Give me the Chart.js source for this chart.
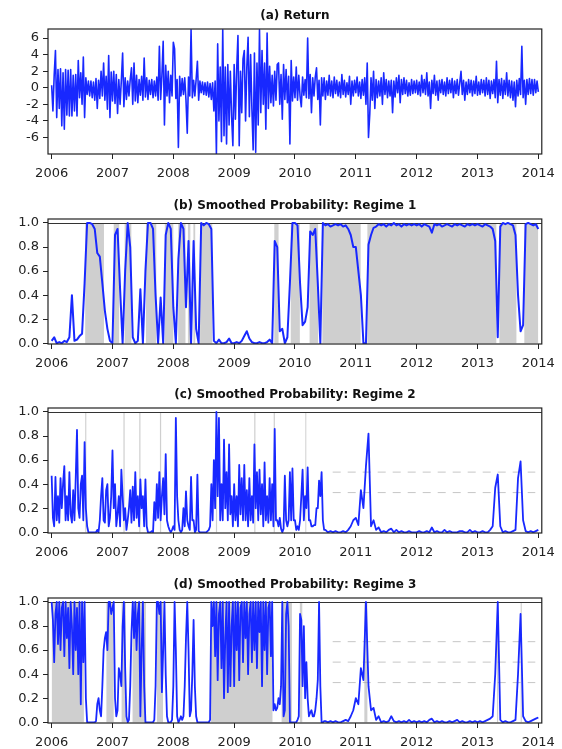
<!DOCTYPE html>
<html>
<head>
<meta charset="utf-8">
<script src="https://cdn.jsdelivr.net/npm/chart.js@4.4.0/dist/chart.umd.min.js"></script>
<style>
  body { margin: 0; background: #fff; }
  #wrap { position: relative; width: 562px; height: 749px; overflow: hidden; }
  canvas { position: absolute; left: 0; }
</style>
</head>
<body>
<div id="wrap">
  <canvas id="panelA" width="562" height="185" style="top:0px"></canvas>
  <canvas id="panelB" width="562" height="185" style="top:190px"></canvas>
  <canvas id="panelC" width="562" height="185" style="top:379px"></canvas>
  <canvas id="panelD" width="562" height="185" style="top:569px"></canvas>
</div>
<script>
// weekly returns (48 obs per year), 2006 -> 2014
const returns = [
  0.3,-2.8,1.5,4.5,-3.6,2.2,-2.5,2.3,-4.6,1.8,-5.0,2.2,-3.3,2.1,-3.4,2.2,-3.4,1.5,-2.8,1.6,-3.4,3.3,-1.2,1.8,-2.0,3.7,-3.6,1.2,-0.8,0.8,-1.0,0.8,-1.2,0.7,-1.5,1.1,-2.5,0.9,-1.3,2.0,-1.0,3.0,-1.5,1.4,-2.6,3.9,-3.6,1.9,
  -1.6,2.0,-1.9,1.6,-3.1,1.0,-2.0,0.9,4.2,-2.3,1.2,-1.4,0.8,-1.0,1.0,2.4,-2.0,3.0,-1.6,1.5,-1.8,1.0,-0.9,1.4,-1.5,3.6,-1.1,1.2,-1.4,0.9,-0.8,1.0,-1.2,0.8,-1.0,1.3,-1.5,5.0,-1.4,1.5,5.6,-4.5,2.7,-1.0,2.0,-1.8,1.5,-1.0,
  5.5,4.7,-1.3,1.0,-7.2,1.4,-1.0,1.1,-0.8,1.2,-1.5,-5.5,1.3,-1.0,7.0,-1.2,0.9,-1.0,1.0,3.2,-1.5,0.8,-0.6,0.7,-0.8,0.6,-0.9,0.7,-1.1,0.5,-1.4,0.6,-2.8,0.8,-8.0,5.3,-4.0,2.5,-6.5,7.0,-5.8,2.5,-6.8,2.8,-4.5,2.0,-3.5,-7.0,
  2.8,-3.8,2.2,6.3,-7.0,2.0,-3.0,3.5,4.5,-4.0,2.5,6.1,-3.5,4.0,-2.5,-7.5,4.2,-7.8,3.0,-4.5,7.0,-3.0,4.5,-2.0,3.0,-5.0,6.6,-2.5,2.6,-1.8,1.5,-2.2,2.0,-1.5,2.8,3.0,-2.0,1.6,-3.8,2.8,-1.4,2.2,-1.8,1.4,-6.8,3.3,-1.6,1.3,
  -1.2,2.5,-1.5,1.5,-1.0,-2.3,1.3,-0.9,1.0,-1.2,6.0,-1.3,1.6,-3.0,1.2,-1.0,1.3,2.4,-1.4,0.9,-4.5,1.2,-1.0,1.2,-1.4,0.8,-0.9,1.5,-1.0,0.8,-1.2,1.3,-0.7,0.9,-1.0,0.7,-1.2,1.6,-0.8,0.9,-1.1,0.6,-0.8,1.4,-2.0,0.8,-1.0,0.9,
  -0.6,1.3,-1.0,0.7,-1.3,1.0,-0.9,1.2,-2.0,3.0,-6.0,-3.2,1.2,-1.5,2.0,-2.5,1.0,-1.2,0.8,-1.0,1.2,-2.0,1.8,-0.8,1.0,-1.2,0.8,-1.0,0.9,-3.0,0.8,-1.1,1.2,-0.6,1.5,-1.8,1.0,-0.8,1.2,-0.7,0.9,-1.0,0.6,-0.9,1.0,-0.7,0.8,-0.6,
  0.9,-0.8,0.7,-1.0,1.5,-0.6,1.0,-0.8,1.8,-1.0,0.7,-2.5,0.9,-0.7,1.5,-0.9,0.8,-1.5,0.9,-0.6,1.0,-0.8,0.7,-1.0,1.2,-0.7,0.9,-0.6,1.1,-1.2,0.8,-0.7,1.0,-0.9,0.6,2.0,-0.8,0.9,-1.5,0.7,-0.8,1.0,-0.6,0.9,-1.0,0.8,-0.7,1.4,
  -0.9,0.7,-0.8,1.0,-0.6,0.9,-1.0,1.2,-0.8,0.9,-1.3,0.8,-0.7,1.0,-1.2,3.2,-1.8,1.0,-0.9,1.1,-1.3,0.9,-0.8,1.8,-1.0,0.9,-1.2,0.8,-1.5,0.7,-2.3,0.9,-1.0,1.1,-0.8,5.0,-1.2,0.9,-2.0,1.0,-0.8,1.1,-0.7,1.0,-0.9,1.0,-0.6,0.8,
  -0.5
];

// smoothed probability of regime 1 (24 obs per year)
const regime1 = [
  0.02,0.05,0.0,0.01,0.0,0.02,0.01,0.05,0.40,0.02,0.03,0.06,0.08,0.5,1.0,1.0,0.99,0.95,0.75,0.72,0.5,0.27,0.12,0.02,
  0.0,0.9,0.95,0.45,0.0,0.6,1.0,0.8,0.05,0.0,0.02,0.45,0.0,0.6,1.0,1.0,0.95,0.4,0.0,0.38,0.0,0.9,1.0,0.95,
  0.3,0.0,0.7,1.0,0.95,0.3,0.85,0.0,0.85,0.12,0.0,1.0,0.98,1.0,0.99,0.95,0.02,0.0,0.03,0.0,0.0,0.01,0.04,0.0,
  0.0,0.01,0.0,0.02,0.06,0.1,0.04,0.01,0.0,0.0,0.01,0.0,0.0,0.01,0.03,0.0,0.85,0.8,0.1,0.12,0.0,0.05,0.5,1.0,
  1.0,0.98,0.5,0.15,0.18,0.3,0.93,0.9,0.95,0.5,0.0,1.0,0.98,0.99,0.97,0.98,0.99,0.98,0.99,0.97,0.98,0.95,0.9,0.8,
  0.8,0.6,0.4,0.0,0.0,0.82,0.9,0.96,0.97,0.99,0.98,0.99,0.97,0.99,0.98,1.0,0.98,0.99,0.97,0.99,0.98,0.99,0.98,0.99,
  0.98,0.99,0.97,0.99,0.98,0.97,0.92,0.99,0.98,0.99,0.97,0.98,0.99,0.98,0.97,0.99,0.98,0.99,0.98,0.97,0.99,0.98,0.99,0.98,
  0.99,0.98,0.97,0.99,0.98,0.97,0.95,0.85,0.05,0.97,1.0,0.99,1.0,0.99,0.98,0.9,0.4,0.1,0.15,0.99,1.0,0.99,0.98,0.99,
  0.95
];

// regime 2: volatile stretch 2006.0-2010.5 at 48 obs per year, then 24 per year
const regime2Early = [
  0.47,0.12,0.05,0.46,0.1,0.3,0.08,0.45,0.2,0.4,0.55,0.1,0.3,0.1,0.5,0.15,0.08,0.35,0.1,0.45,0.85,0.2,0.12,0.4,0.47,0.1,0.75,0.2,0.05,0.0,0.0,0.0,0.0,0.0,0.0,0.0,0.02,0.0,0.1,0.3,0.45,0.1,0.08,0.35,0.4,0.05,0.12,0.3,
  0.68,0.2,0.4,0.05,0.15,0.3,0.05,0.52,0.3,0.1,0.2,0.02,0.1,0.2,0.35,0.08,0.38,0.1,0.5,0.12,0.3,0.05,0.44,0.2,0.3,0.05,0.44,0.05,0.0,0.0,0.0,0.01,0.0,0.25,0.1,0.4,0.12,0.5,0.1,0.3,0.45,0.15,0.65,0.1,0.05,0.02,0.0,0.02,
  0.05,0.02,0.95,0.3,0.1,0.02,0.0,0.02,0.2,0.05,0.34,0.1,0.05,0.02,0.46,0.1,0.1,0.0,0.02,0.48,0.01,0.0,0.0,0.0,0.0,0.0,0.0,0.01,0.02,0.05,0.4,0.1,0.6,0.2,1.0,0.3,0.95,0.1,0.4,0.1,0.77,0.2,0.5,0.1,0.73,0.15,0.3,0.05,
  0.4,0.1,0.3,0.05,0.56,0.15,0.45,0.1,0.56,0.1,0.35,0.05,0.45,0.1,0.3,0.08,0.73,0.2,0.5,0.1,0.52,0.15,0.4,0.05,0.58,0.1,0.3,0.08,0.45,0.1,0.4,0.05,0.86,0.1,0.1,0.05,0.12,0.03,0.0,0.03,0.47,0.1,0.05,0.1,0.5,0.1,0.53,0.1,
  0.1,0.02,0.05,0.02,0.1,0.3,0.52,0.1,0.3,0.2,0.54,0.1,0.1,0.05,0.05,0.06,0.06,0.2,0.2,0.43,0.3,0.5,0.1,0.02
];
const regime2Late = [
  0.02,0.0,0.01,0.0,0.01,0.0,0.0,0.01,0.0,0.02,0.05,0.1,
  0.12,0.06,0.35,0.2,0.55,0.82,0.05,0.1,0.02,0.04,0.0,0.01,0.0,0.02,0.03,0.0,0.02,0.0,0.01,0.0,0.0,0.01,0.0,0.0,
  0.0,0.01,0.0,0.0,0.01,0.0,0.04,0.0,0.01,0.0,0.0,0.02,0.0,0.01,0.0,0.0,0.0,0.01,0.01,0.0,0.0,0.02,0.0,0.01,
  0.0,0.0,0.01,0.0,0.0,0.02,0.05,0.37,0.48,0.05,0.0,0.01,0.0,0.0,0.01,0.02,0.45,0.59,0.1,0.01,0.0,0.01,0.0,0.01,
  0.02
];

// regime 3: same split as regime 2
const regime3Early = [
  1.0,0.85,0.5,0.9,1.0,0.65,1.0,0.6,0.95,1.0,0.55,1.0,0.7,0.95,0.45,1.0,0.8,0.4,1.0,0.6,0.95,0.4,1.0,0.15,1.0,0.5,1.0,0.2,0.0,0.0,0.0,0.0,0.0,0.0,0.0,0.01,0.15,0.2,0.1,0.05,0.3,0.6,0.7,0.75,0.6,1.0,1.0,0.9,
  0.95,1.0,0.2,0.05,0.1,0.45,0.4,0.3,0.8,1.0,0.45,0.05,0.0,0.02,0.3,0.75,1.0,0.7,1.0,0.6,0.9,1.0,0.05,0.6,1.0,0.3,0.0,0.0,0.0,0.0,0.0,0.0,0.0,0.02,0.3,1.0,1.0,0.9,1.0,0.25,0.6,1.0,0.4,0.05,0.0,0.0,0.0,0.02,
  0.3,1.0,0.6,0.05,0.0,0.02,0.05,0.02,0.05,0.3,0.7,1.0,0.6,0.05,0.1,0.4,0.85,0.3,0.05,0.0,0.0,0.0,0.0,0.0,0.0,0.0,0.0,0.0,0.0,0.02,1.0,0.8,1.0,0.55,1.0,0.35,0.9,1.0,0.45,1.0,0.2,0.7,1.0,0.25,1.0,0.3,0.8,1.0,
  0.3,1.0,0.6,1.0,0.35,0.95,1.0,0.5,1.0,0.7,1.0,0.4,0.9,1.0,0.5,1.0,0.6,1.0,0.45,1.0,0.75,1.0,0.3,1.0,0.6,1.0,0.4,0.95,1.0,0.55,1.0,0.1,0.15,0.1,0.12,0.2,0.15,0.3,1.0,0.05,0.1,0.9,1.0,0.8,0.0,0.0,0.0,0.0,
  0.0,0.0,0.02,0.05,0.9,0.85,0.3,0.8,0.2,0.5,0.2,0.05,0.08,0.1,0.05,0.05,0.1,0.2,0.35,1.0,0.3,0.0,0.0,0.01
];
const regime3Late = [
  0.01,0.0,0.01,0.0,0.01,0.0,0.0,0.01,0.02,0.01,0.05,0.1,
  0.2,0.15,0.45,0.35,1.0,0.3,0.1,0.12,0.02,0.05,0.0,0.01,0.0,0.01,0.05,0.01,0.0,0.01,0.0,0.01,0.0,0.02,0.0,0.01,
  0.0,0.01,0.0,0.01,0.0,0.02,0.03,0.0,0.01,0.0,0.01,0.0,0.0,0.01,0.0,0.01,0.02,0.0,0.01,0.0,0.0,0.01,0.0,0.01,
  0.0,0.01,0.0,0.01,0.02,0.03,0.05,0.4,1.0,0.02,0.0,0.01,0.0,0.0,0.01,0.02,0.4,0.9,0.05,0.01,0.0,0.01,0.02,0.03,
  0.04
];

// periods classified into each regime (grey bands)
const shade1 = [[2006.55,2006.86],[2007.02,2007.11],[2007.2,2007.31],[2007.55,2007.72],[2007.86,2008.0],
  [2008.08,2008.2],[2008.24,2008.28],[2008.33,2008.36],[2008.44,2008.64],[2009.66,2009.73],[2009.93,2010.08],
  [2010.24,2010.38],[2010.45,2011.08],[2011.19,2013.31],[2013.36,2013.64],[2013.77,2014.0]];
const shade2 = [[2006.55,2006.57],[2007.18,2007.2],[2007.44,2007.46],[2007.78,2007.8],[2008.7,2008.72],
  [2009.33,2009.35],[2009.65,2009.67],[2010.17,2010.19]];
const shade3 = [[2006.0,2006.53],[2006.9,2007.02],[2007.15,2007.22],[2007.33,2007.55],[2007.73,2007.83],
  [2008.62,2009.63],[2009.78,2009.95],[2010.08,2010.12],[2011.14,2011.19],[2013.32,2013.34],[2013.71,2013.73]];

// faint dashed levels
const guideSpan = [2010.62, 2013.95];
const guides2 = [0.5, 0.33];
const guides3 = [0.67, 0.5, 0.33];

const yearTicks = [2006, 2007, 2008, 2009, 2010, 2011, 2012, 2013, 2014];
const returnTicks = [-6, -4, -2, 0, 2, 4, 6];
const probTicks = [0, 0.2, 0.4, 0.6, 0.8, 1.0];

const FONT = 'DejaVu Sans';
const BLUE = 'rgb(24,40,255)';
const GREY = '#cfcfcf';
const INK = '#222';

function series(values, perYear, start) {
  return values.map((v, i) => ({ x: start + i / perYear, y: v }));
}

function bands(spans) {
  const pts = [];
  spans.forEach(([a, b]) => {
    pts.push({ x: a, y: 0 }, { x: a, y: 1 }, { x: b, y: 1 }, { x: b, y: 0 });
  });
  return pts;
}

function guideSets(levels) {
  return levels.map(v => ({
    data: [{ x: guideSpan[0], y: v }, { x: guideSpan[1], y: v }],
    borderColor: 'rgba(160,160,160,0.6)',
    borderWidth: 1,
    borderDash: [8, 7],
    fill: false
  }));
}

// box around the plot area plus the reference line at 1.0
const framePlugin = {
  id: 'frame',
  beforeDatasetDraw(chart, args, opts) {
    if (!opts.unitLine || args.index !== 0) return;
    const { ctx, chartArea, scales } = chart;
    const y = Math.round(scales.y.getPixelForValue(1)) + 0.5;
    ctx.save();
    ctx.strokeStyle = '#333';
    ctx.lineWidth = 1;
    ctx.beginPath();
    ctx.moveTo(chartArea.left, y);
    ctx.lineTo(chartArea.right, y);
    ctx.stroke();
    ctx.restore();
  },
  afterDatasetsDraw(chart) {
    const { ctx, chartArea: a } = chart;
    ctx.save();
    ctx.strokeStyle = INK;
    ctx.lineWidth = 1.2;
    ctx.strokeRect(a.left, a.top, a.right - a.left, a.bottom - a.top);
    ctx.restore();
  }
};

function panel(id, title, datasets, yMin, yMax, yTicks, fmt, unitLine) {
  return new Chart(document.getElementById(id), {
    type: 'line',
    data: { datasets },
    options: {
      responsive: false,
      animation: false,
      devicePixelRatio: 1,
      layout: { padding: { left: 0, right: 18, top: 0, bottom: 0 } },
      elements: { point: { radius: 0 }, line: { tension: 0 } },
      plugins: {
        legend: { display: false },
        tooltip: { enabled: false },
        title: {
          display: true,
          text: title,
          fullSize: false,
          color: '#111',
          font: { family: FONT, size: 12, weight: 'bold' },
          padding: { top: 9, bottom: 5.6 }
        },
        frame: { unitLine }
      },
      scales: {
        x: {
          type: 'linear',
          min: 2005.94,
          max: 2014.057,
          afterBuildTicks: s => { s.ticks = yearTicks.map(v => ({ value: v })); },
          afterFit: s => { s.height = 31; },
          ticks: {
            autoSkip: false, maxRotation: 0, padding: 7, color: INK,
            font: { family: FONT, size: 13 },
            callback: v => String(v)
          },
          grid: { drawOnChartArea: false, tickLength: 5, tickColor: INK },
          border: { display: false }
        },
        y: {
          min: yMin,
          max: yMax,
          afterBuildTicks: s => { s.ticks = yTicks.map(v => ({ value: v })); },
          afterFit: s => { s.width = 48; },
          ticks: {
            autoSkip: false, padding: 4, color: INK,
            font: { family: FONT, size: 13 },
            callback: v => fmt(v)
          },
          grid: { drawOnChartArea: false, tickLength: 5, tickColor: INK },
          border: { display: false }
        }
      }
    },
    plugins: [framePlugin]
  });
}

const blueLine = (points, width) => ({
  data: points,
  borderColor: BLUE,
  borderWidth: width,
  borderJoinStyle: 'round',
  fill: false
});
const greyBand = spans => ({
  data: bands(spans),
  borderWidth: 0,
  borderColor: 'rgba(0,0,0,0)',
  backgroundColor: GREY,
  fill: 'origin'
});

const probFmt = v => v.toFixed(1);

panel('panelA', '(a) Return',
  [blueLine(series(returns, 48, 2006), 1.6)],
  -8.0, 7.1, returnTicks, v => String(v), false);

panel('panelB', '(b) Smoothed Probability: Regime 1',
  [blueLine(series(regime1, 24, 2006), 2.0), greyBand(shade1)],
  -0.006, 1.033, probTicks, probFmt, true);

panel('panelC', '(c) Smoothed Probability: Regime 2',
  [blueLine(series(regime2Early, 48, 2006).concat(series(regime2Late, 24, 2010.5)), 1.8),
   ...guideSets(guides2), greyBand(shade2)],
  -0.006, 1.033, probTicks, probFmt, true);

panel('panelD', '(d) Smoothed Probability: Regime 3',
  [blueLine(series(regime3Early, 48, 2006).concat(series(regime3Late, 24, 2010.5)), 1.8),
   ...guideSets(guides3), greyBand(shade3)],
  -0.006, 1.033, probTicks, probFmt, true);
</script>
</body>
</html>
